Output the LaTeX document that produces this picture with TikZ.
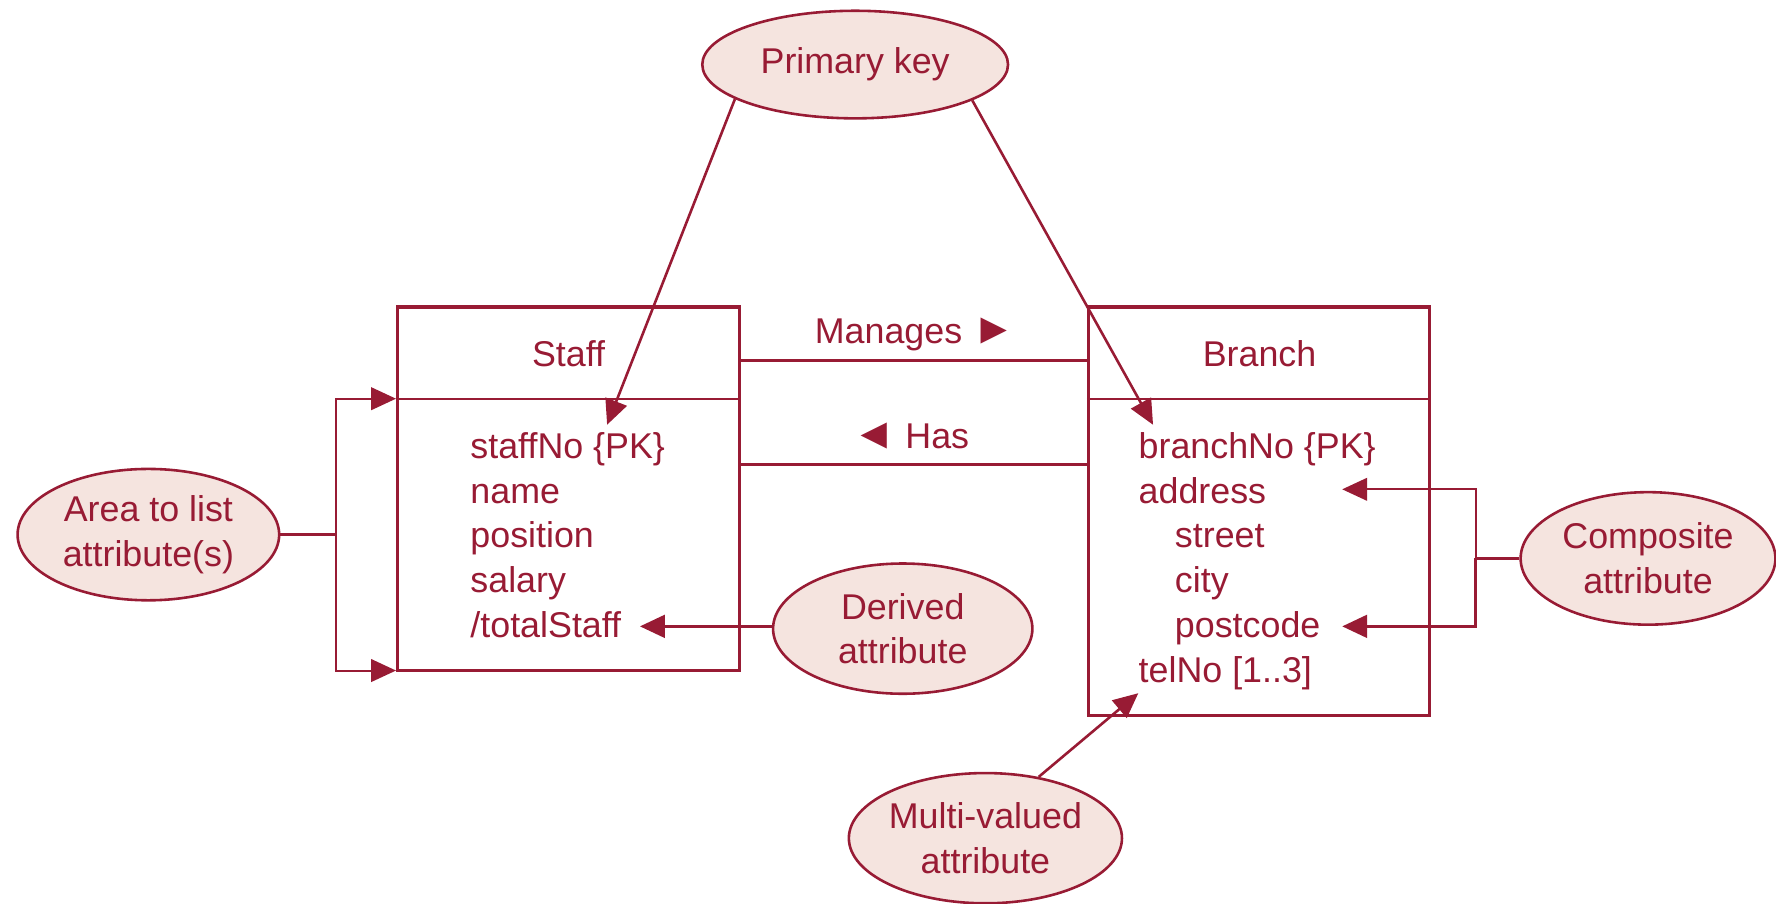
\documentclass[tikz,border=0pt]{standalone}
\usepackage{fontspec}
\setmainfont{Liberation Sans}
\usetikzlibrary{shapes.geometric,arrows.meta,calc}
\definecolor{crim}{RGB}{152,27,52}
\definecolor{pinkf}{RGB}{245,228,223}
\newcommand{\bigtri}[1]{{\fontsize{22}{22.5}\selectfont #1}}
\begin{document}
\begin{tikzpicture}[x=0.02cm,y=-0.02cm,
  txt/.style={text=crim,font=\fontsize{18}{22.5}\selectfont,inner sep=0},
  ell/.style={ellipse,draw=crim,fill=pinkf,line width=1.3pt,inner sep=0,align=center,text=crim,font=\fontsize{18}{22.5}\selectfont},
  ebox/.style={draw=crim,line width=1.6pt,inner sep=0},
  divline/.style={draw=crim,line width=0.9pt},
  conn/.style={draw=crim,line width=1.5pt},
  thinconn/.style={draw=crim,line width=1pt},
  tip/.style={-{Triangle[length=0.44cm,width=0.4cm]}}]
\useasboundingbox (0,0) rectangle (1568,798);

% entity boxes
\node[ebox,minimum width=6.04cm,minimum height=6.42cm] (staff) at (502,431.5) {};
\node[ebox,minimum width=6.02cm,minimum height=7.22cm] (branch) at (1111.5,451.5) {};
\coordinate (div) at (0,352);
\draw[divline] (staff.west |- div) -- (staff.east |- div);
\draw[divline] (branch.west |- div) -- (branch.east |- div);

\node[txt,anchor=base] (stafft) at (502,323.7) {Staff};
\node[txt,anchor=base] (brancht) at (1112,323.7) {Branch};

% staff attributes
\node[txt,anchor=base west] (s1) at (415,404.6) {staffNo \{PK\}};
\node[txt,anchor=base west] (s2) at (415,444.2) {name};
\node[txt,anchor=base west] (s3) at (415,483.8) {position};
\node[txt,anchor=base west] (s4) at (415,523.4) {salary};
\node[txt,anchor=base west] (s5) at (415,563.0) {/totalStaff};

% branch attributes
\node[txt,anchor=base west] (b1) at (1005,404.6) {branchNo \{PK\}};
\node[txt,anchor=base west] (b2) at (1005,444.2) {address};
\node[txt,anchor=base west] (b3) at (1037,483.8) {street};
\node[txt,anchor=base west] (b4) at (1037,523.4) {city};
\node[txt,anchor=base west] (b5) at (1037,563.0) {postcode};
\node[txt,anchor=base west] (b6) at (1005,602.6) {telNo [1..3]};

% relationships
\coordinate (man) at (0,318);
\coordinate (has) at (0,410);
\draw[conn] (staff.east |- man) -- (branch.west |- man);
\draw[conn] (staff.east |- has) -- (branch.west |- has);
\node[txt,anchor=base] (manl) at (808,303) {Manages \bigtri{►}};
\node[txt,anchor=base] (hasl) at (804,395.8) {\bigtri{◄} Has};

% callouts
\node[ell,minimum width=5.4cm,minimum height=1.9cm] (pk) at (755,57) {Primary key};
\node[ell,minimum width=4.62cm,minimum height=2.32cm] (area) at (131,472) {Area to list\\attribute(s)};
\node[ell,minimum width=4.58cm,minimum height=2.3cm] (der) at (797,555) {Derived\\attribute};
\node[ell,minimum width=4.5cm,minimum height=2.34cm] (comp) at (1455,493) {Composite\\attribute};
\node[ell,minimum width=4.6cm,minimum height=2.3cm] (mv) at (870,740) {Multi-valued\\attribute};

% primary key arrows
\coordinate (pktipS) at (536,375);
\coordinate (pktipB) at (1018,375);
\draw[conn,line width=1.3pt,tip] (pk.196) -- (pktipS);
\draw[conn,line width=1.3pt,tip] (pk.343) -- (pktipB);

% area to list attributes
\coordinate (aj) at (297,472);
\coordinate (at) at (297,352);
\coordinate (ab) at (297,592);
\draw[conn] (area.east) -- (aj);
\draw[thinconn,tip] (aj) -- (at) -- (staff.west |- at);
\draw[thinconn,tip] (aj) -- (ab) -- (staff.west |- ab);

% derived
\coordinate (dtip) at (565,553);
\draw[conn,tip] (der.west |- dtip) -- (dtip);

% composite
\coordinate (cj) at (1303,493);
\coordinate (ct) at (1303,432);
\coordinate (cb) at (1303,553);
\coordinate (ctipA) at (1185,432);
\coordinate (ctipP) at (1185,553);
\draw[conn] (comp.west) -- (cj);
\draw[thinconn,tip] (cj) -- (ct) -- (ctipA);
\draw[conn,tip] (cj) -- (cb) -- (ctipP);

% multi-valued
\coordinate (mtip) at (1005,612);
\draw[conn,line width=1.3pt,tip] (mv.49) -- (mtip);
\end{tikzpicture}
\end{document}
